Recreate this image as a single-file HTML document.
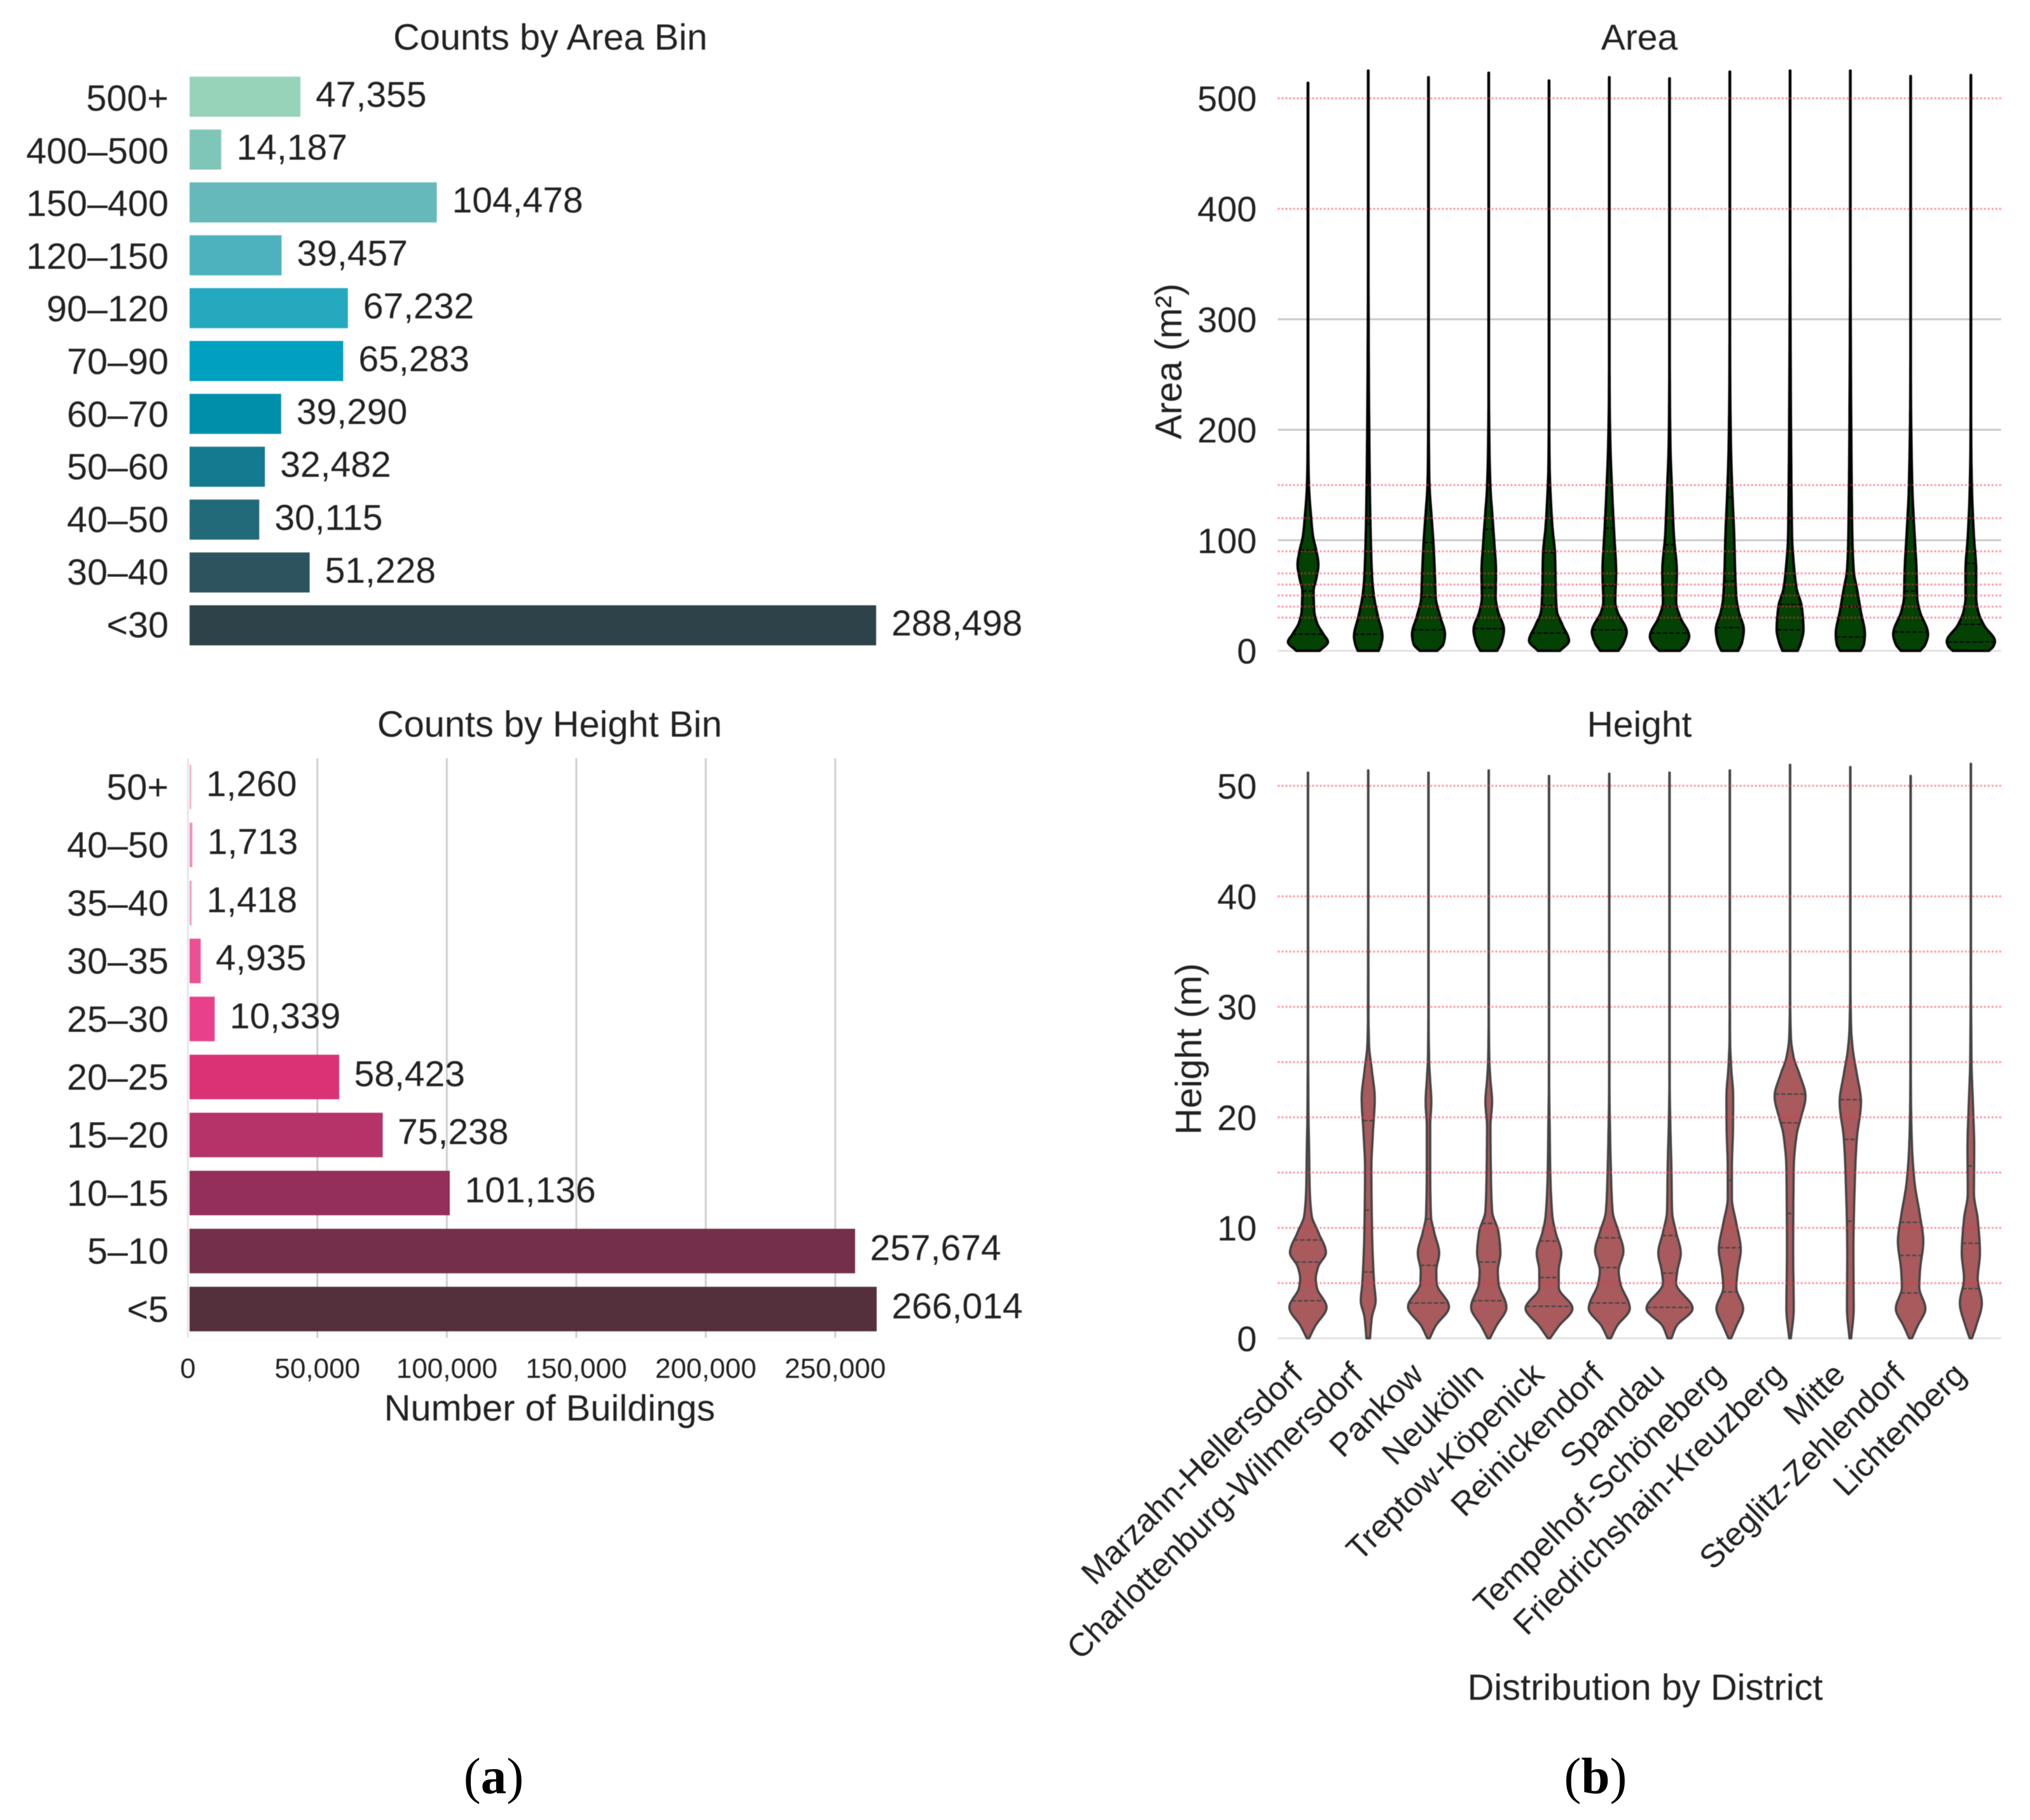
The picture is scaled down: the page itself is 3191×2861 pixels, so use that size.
<!DOCTYPE html>
<html lang="en">
<head>
<meta charset="utf-8">
<title>Building counts and distributions by district</title>
<style>
html,body{margin:0;padding:0;background:#fff;}
svg{display:block;}
text{font-family:"Liberation Sans",sans-serif;fill:#222222;}
.panel-tag{font-family:"Liberation Serif",serif;fill:#000;font-size:81px;}
</style>
</head>
<body>
<svg id="figure" xmlns="http://www.w3.org/2000/svg" width="3191" height="2861" viewBox="0 0 3191 2861">
  <rect x="0" y="0" width="3191" height="2861" fill="#ffffff"/>
  <g id="plots" style="filter:blur(0.6px)">
    <text x="865" y="78" font-size="57.7" text-anchor="middle">Counts by Area Bin</text>
    <text x="864" y="1158" font-size="57.7" text-anchor="middle">Counts by Height Bin</text>
    <text x="864" y="2233" font-size="57.8" text-anchor="middle">Number of Buildings</text>
    <text x="2577" y="78" font-size="57" text-anchor="middle">Area</text>
    <text x="2577" y="1158" font-size="57" text-anchor="middle">Height</text>
    <text transform="translate(1857,568) rotate(-90)" font-size="58" text-anchor="middle">Area (m²)</text>
    <text transform="translate(1888,1649) rotate(-90)" font-size="57.8" text-anchor="middle">Height (m)</text>
    <text x="2586" y="2672" font-size="57.8" text-anchor="middle">Distribution by District</text>
  </g>
  <text class="panel-tag" x="776" y="2819" text-anchor="middle">(<tspan font-weight="bold">a</tspan>)</text>
  <text class="panel-tag" x="2508" y="2819" text-anchor="middle">(<tspan font-weight="bold">b</tspan>)</text>
</svg>
<script>
// ---- Bar chart data ----
const areaBinCategories = ["500+","400–500","150–400","120–150","90–120","70–90","60–70","50–60","40–50","30–40","<30"];
const areaBinCounts = [47355,14187,104478,39457,67232,65283,39290,32482,30115,51228,288498];
const heightBinCategories = ["50+","40–50","35–40","30–35","25–30","20–25","15–20","10–15","5–10","<5"];
const heightBinCounts = [1260,1713,1418,4935,10339,58423,75238,101136,257674,266014];
const buildingTicks = [0,50000,100000,150000,200000,250000];

// ---- Violin chart data ----
const districts = ["Marzahn-Hellersdorf","Charlottenburg-Wilmersdorf","Pankow","Neukölln","Treptow-Köpenick","Reinickendorf","Spandau","Tempelhof-Schöneberg","Friedrichshain-Kreuzberg","Mitte","Steglitz-Zehlendorf","Lichtenberg"];
const areaTicks = [0,100,200,300];
const areaBinEdges = [30,40,50,60,70,90,120,150,400,500];
const areaTickLabels = [0,100,200,300,400,500];
const heightTickLabels = [0,10,20,30,40,50];
const heightBinEdges = [5,10,15,20,25,30,35,40,50];

// Each profile: [value, density] pairs.
const areaMarzahn = [[0,20],[8,33],[15,26],[25,16],[36,11.5],[54,10.5],[66,15],[78,18],[90,15],[104,9.5],[125,6],[145,3.5],[165,2.5],[185,2.2],[240,1.8]];
const areaCharlottenburg = [[0,18],[6,22],[13,24],[31,17],[48,11],[64,8],[104,5.5],[145,4.2],[185,3.4],[266,2.4],[400,1.8]];
const areaPankow = [[0,15.5],[6,25],[15,27.5],[31,20],[48,13],[64,12],[96,9.5],[125,6],[145,3.6],[165,2.6],[220,2]];
const areaNeukolln = [[0,15],[8,22],[19,25.5],[36,16],[48,12.5],[72,13],[96,10.5],[125,7],[145,4.5],[185,2.6],[260,1.8]];
const areaTreptow = [[0,19],[9,33],[23,23],[36,14],[48,12.5],[88,11],[112,7],[145,3.8],[165,2.6],[230,1.8]];
const areaReinickendorf = [[0,16],[7,24],[17,29],[36,14],[44,11],[72,12.3],[104,9.5],[145,6],[185,3.4],[225,2.2],[300,1.8]];
const areaSpandau = [[0,18],[6,28],[13,32.5],[31,18],[44,12],[72,13],[104,8.5],[145,5.5],[185,3],[225,2.2],[300,1.8]];
const areaTempelhof = [[0,15],[8,21],[19,23.6],[36,15.5],[48,12],[72,10],[104,8.5],[145,5.5],[185,3.4],[246,2.2],[340,1.8]];
const areaFriedrichshain = [[0,13.7],[8,19],[19,22.7],[40,20],[56,12],[72,8.5],[104,4.7],[145,3.8],[205,3],[306,2.2],[420,1.8]];
const areaMitte = [[0,18],[6,23],[15,24.5],[36,18],[56,12],[72,7],[104,4.7],[145,3.8],[185,3.2],[266,2.4],[400,1.8]];
const areaSteglitz = [[0,17],[6,25],[15,29],[36,16],[48,12],[72,11],[104,8],[145,4.5],[185,3],[225,2.2],[300,1.8]];
const areaLichtenberg = [[0,30],[4,37],[8.5,39.5],[23,22.4],[36,13],[48,10],[72,10],[104,6.4],[145,3.4],[185,2.2],[260,1.8]];
const areaProfiles = [areaMarzahn,areaCharlottenburg,areaPankow,areaNeukolln,areaTreptow,areaReinickendorf,areaSpandau,areaTempelhof,areaFriedrichshain,areaMitte,areaSteglitz,areaLichtenberg];
const areaMax = [514,525,519,523,516,519,518,524,525,525,520,521];
const areaQ1 = [15,15,19,20,16,19,16,21,19,12.5,17,8];
const areaMedian = [54,49,49,57,41,59,40,63,42,40,54,24];
const areaQ3 = [91,115,98,110,89,111,96,139,116,177,120,79];

const heightMarzahn = [[0,3.5],[1.1,13],[2.8,31],[4.6,15.6],[5.4,14],[6.5,18],[7.75,30],[9.6,18],[11.1,7.6],[13.5,4.5],[17.3,3.5],[20,2.6],[27,2]];
const heightCharlottenburg = [[0,4.5],[1.9,7.5],[3.4,13.4],[5,11],[9.6,7.8],[15.4,6.7],[18.5,9],[21.7,12],[24.2,7.6],[26.6,3],[29,2.2]];
const heightPankow = [[0,3.5],[1.1,12.7],[2.85,34],[5,14.5],[6.1,14],[7.7,18.5],[9.6,10.7],[11.1,5.6],[15.4,4.4],[19.2,4.4],[21.4,6.2],[23.5,4.2],[25.4,2.6],[29,2]];
const heightNeukolln = [[0,3.5],[1.1,13.4],[2.8,29.5],[5,17],[6.1,16],[7.7,20],[9.6,17],[11.5,7],[15.4,5],[19.2,4.4],[21.4,7],[23.5,4.2],[25.4,2.6],[29,2]];
const heightTreptow = [[0,3.5],[1.1,17],[2.7,38.6],[4.6,17],[6.1,17],[7.7,21],[9.6,12],[11.1,7],[15.4,3.6],[19.2,2.8],[23,2]];
const heightReinickendorf = [[0,4.2],[1.1,13.7],[2.7,34],[5,19],[6.1,16.5],[7.9,24],[9.6,16.5],[11.5,7],[15.4,4.2],[19.2,2.8],[23,2]];
const heightSpandau = [[0,4.7],[1.1,12.5],[2.7,38],[5,12],[6.1,14],[7.7,19.4],[9.6,12],[11.5,5.7],[15.4,4.7],[19.2,3],[23,2]];
const heightTempelhof = [[0,3.8],[1.1,12],[2.7,22.7],[4.6,12],[6.1,14],[8,19],[10.4,12],[12.7,5],[15.4,5],[19.2,6.8],[21.9,7],[24.6,3.8],[27,2.2],[31,2]];
const heightFriedrichshain = [[0,3],[2.7,7.5],[7.7,6.6],[15.4,7.5],[18.5,12.3],[19.8,18],[21.9,26],[23.9,16.5],[25.4,7.5],[27.3,3],[30.8,2]];
const heightMitte = [[0,3],[2.7,7],[7.7,6.6],[15.4,9.5],[18.1,12],[21.4,18.5],[23.9,12],[26.2,5.5],[28.1,3],[32,2]];
const heightSteglitz = [[0,4],[1.1,12.5],[2.7,25],[4.6,15.4],[6.1,16.5],[8.8,21.7],[11.1,16.5],[14.2,7.8],[17.3,4],[21.2,2.4],[26,2]];
const heightLichtenberg = [[0,3.5],[1.1,10],[3.2,19],[5.4,12.5],[7.7,16],[10.8,12.5],[13.1,6.6],[17.3,7],[21.2,5],[25,2.8],[32.7,2]];
const heightProfiles = [heightMarzahn,heightCharlottenburg,heightPankow,heightNeukolln,heightTreptow,heightReinickendorf,heightSpandau,heightTempelhof,heightFriedrichshain,heightMitte,heightSteglitz,heightLichtenberg];
const heightMax = [51.2,51.4,51.2,51.4,50.9,51.1,51.2,51.4,51.9,51.7,50.9,52];
const heightQ1 = [3.4,6,3.2,3.4,2.9,3.2,2.8,4.2,11.3,10.6,4.1,4.5];
const heightMedian = [6.9,11.6,6.6,6.9,5.5,6.4,5.9,8.2,19.5,18,7.5,8.6];
const heightQ3 = [8.9,19.7,10.8,10.4,8.8,9.1,9.3,14.3,22.1,21.6,10.5,15.6];
const heightGridTicks = [0];

// ---- Palettes ----
const areaBarPalette = ["#96d3b9","#80c6b8","#66b9ba","#4db2bd","#24a9bf","#00a0c0","#008fab","#147a90","#22697a","#2d545e","#2d4349"];
const heightBarPalette = ["#f3a9c9","#ee8fbb","#f49ac1","#ed4f94","#e9408c","#da3275","#b53368","#932f59","#742f4a","#54303d"];

// ---- Axis functions ----
const areaBarX = v => 294.5 + v * 0.003753;
const heightBarX = v => 295.4 + v * 0.00407;
const barStart = 298;
const areaBarY = i => 152 + i * 83.1;
const heightBarY = i => 1237 + i * 91.2;
const areaCatBase = i => 174 + i * 82.8;
const heightCatBase = i => 1257 + i * 91.2;
const districtX = i => 2056 + i * 94.73;
const areaY = v => 1023 - v * 1.737;
const heightY = v => 2103.8 - v * 17.37;
const strokeInset = 1.7;
const densityWidth = d => Math.max(d - strokeInset, 0.25);
const plotLeft = 2008.6, plotRight = 3145.6;

const NS = "http://www.w3.org/2000/svg";
const plots = document.getElementById("plots");
function svgEl(tag, parent) {
  const el = document.createElementNS(NS, tag);
  parent.appendChild(el);
  return el;
}
function setAll(el, attrs) {
  for (const k in attrs) el.setAttribute(k, attrs[k]);
}
const fmt = v => v.toLocaleString("en-US");

// ---- Horizontal bars ----
function drawBars(prefix, cats, counts, palette, xs, ys, catBase, barH, valueBaseOffset, valueGap) {
  const g = svgEl("g", plots);
  
  
  counts.forEach((v, i) => {
    const r = svgEl("rect", g);
    
    
    const end = xs(v);
    setAll(r, {x: barStart, y: ys(i) - barH / 2, width: Math.max(end - barStart, 2.5), height: barH, fill: palette[i]});
    const c = svgEl("text", g);
    
    
    setAll(c, {x: 265, y: catBase(i), "font-size": 57.5, "text-anchor": "end"});
    c.textContent = cats[i];
    const t = svgEl("text", g);
    
    
    setAll(t, {x: Math.max(end, barStart) + valueGap, y: ys(i) + valueBaseOffset, "font-size": 57});
    t.textContent = fmt(v);
  });
}

buildingTicks.forEach(v => {
  const l = svgEl("line", plots);
  
  
  setAll(l, {x1: heightBarX(v), x2: heightBarX(v), y1: 1192, y2: 2103, stroke: v === 0 ? "#e6e6e6" : "#cfcfcf", "stroke-width": 3});
  const t = svgEl("text", plots);
  
  
  setAll(t, {x: heightBarX(v), y: 2166, "font-size": 44, "text-anchor": "middle"});
  t.textContent = fmt(v);
});

drawBars("area-bin", areaBinCategories, areaBinCounts, areaBarPalette, areaBarX, areaBarY, areaCatBase, 63, 16, 24);
drawBars("height-bin", heightBinCategories, heightBinCounts, heightBarPalette, heightBarX, heightBarY, heightCatBase, 70, 14.5, 23.5);

// ---- Violins: monotone cubic interpolation of density along the value axis ----
function tangents(p) {
  const n = p.length, del = [], m = new Array(n).fill(0);
  for (let i = 0; i < n - 1; i++) del.push((p[i + 1][1] - p[i][1]) / (p[i + 1][0] - p[i][0]));
  m[0] = del[0];
  m[n - 1] = del[n - 2];
  for (let i = 1; i < n - 1; i++) {
    if (del[i - 1] * del[i] > 0) {
      const h0 = p[i][0] - p[i - 1][0], h1 = p[i + 1][0] - p[i][0];
      const w1 = 2 * h1 + h0, w2 = h1 + 2 * h0;
      m[i] = (w1 + w2) / (w1 / del[i - 1] + w2 / del[i]);
    }
  }
  return m;
}
function sampleProfile(p) {
  const m = tangents(p), out = [];
  const stepsPerSeg = 10;
  for (let i = 0; i < p.length - 1; i++) {
    const h = p[i + 1][0] - p[i][0];
    for (let s = 0; s < stepsPerSeg; s++) {
      const t = s / stepsPerSeg, t2 = t * t, t3 = t2 * t;
      const d = (2 * t3 - 3 * t2 + 1) * p[i][1] + (t3 - 2 * t2 + t) * h * m[i] + (-2 * t3 + 3 * t2) * p[i + 1][1] + (t3 - t2) * h * m[i + 1];
      out.push([p[i][0] + t * h, d]);
    }
  }
  out.push(p[p.length - 1]);
  return out;
}
function densityAt(samples, v) {
  for (let i = 0; i < samples.length - 1; i++) {
    if (v >= samples[i][0] && v <= samples[i + 1][0]) return samples[i][1];
  }
  return 0.5;
}
function drawViolinPanel(prefix, profiles, maxes, q1, med, q3, yScale, gridTicks, tickLabels, edges, fill, edge, strokeW, gridColor) {
  gridTicks.forEach(v => {
    const l = svgEl("line", plots);
    
    
    setAll(l, {x1: plotLeft, x2: plotRight, y1: yScale(v), y2: yScale(v), stroke: v === 0 ? "#e2e2e2" : gridColor, "stroke-width": 3});
  });
  tickLabels.forEach(v => {
    const t = svgEl("text", plots);
    
    
    setAll(t, {x: 1975.5, y: yScale(v) + 20, "font-size": 56, "text-anchor": "end"});
    t.textContent = String(v);
  });
  profiles.forEach((profile, i) => {
    const cx = districtX(i);
    const samples = sampleProfile(profile.concat([[maxes[i], 1.8]]));
    const right = samples.map(p => (cx + densityWidth(p[1])).toFixed(1) + " " + yScale(p[0]).toFixed(1));
    const left = samples.map(p => (cx - densityWidth(p[1])).toFixed(1) + " " + yScale(p[0]).toFixed(1)).reverse();
    const d = "M" + right.concat(left).join("L") + "Z";
    const path = svgEl("path", plots);
    
    
    setAll(path, {d: d, fill: fill, stroke: edge, "stroke-width": strokeW, "stroke-linejoin": "round"});
    [q1[i], med[i], q3[i]].forEach(q => {
      const w = densityWidth(densityAt(samples, q));
      const l = svgEl("line", plots);
      
      
      setAll(l, {x1: cx - w, x2: cx + w, y1: yScale(q), y2: yScale(q), stroke: edge, "stroke-width": 2.2, "stroke-dasharray": "7 3"});
    });
  });
  edges.forEach(v => {
    const l = svgEl("line", plots);
    
    
    setAll(l, {x1: plotLeft, x2: plotRight, y1: yScale(v), y2: yScale(v), stroke: "#ff2a44", "stroke-width": 3, "stroke-dasharray": "3 3", "stroke-opacity": 0.5});
  });
}
drawViolinPanel("area", areaProfiles, areaMax, areaQ1, areaMedian, areaQ3, areaY, areaTicks, areaTickLabels, areaBinEdges, "#044204", "#030303", 4, "#c8c8c8");
drawViolinPanel("height", heightProfiles, heightMax, heightQ1, heightMedian, heightQ3, heightY, heightGridTicks, heightTickLabels, heightBinEdges, "#a85a5c", "#444444", 3.5, "#e4e4e4");

// ---- District labels ----
districts.forEach((name, i) => {
  const t = svgEl("text", plots);
  
  
  setAll(t, {transform: "translate(" + (districtX(i) - 5) + ",2164) rotate(-45)", "font-size": 51.5, "text-anchor": "end"});
  t.textContent = name;
});
</script>
</body>
</html>
